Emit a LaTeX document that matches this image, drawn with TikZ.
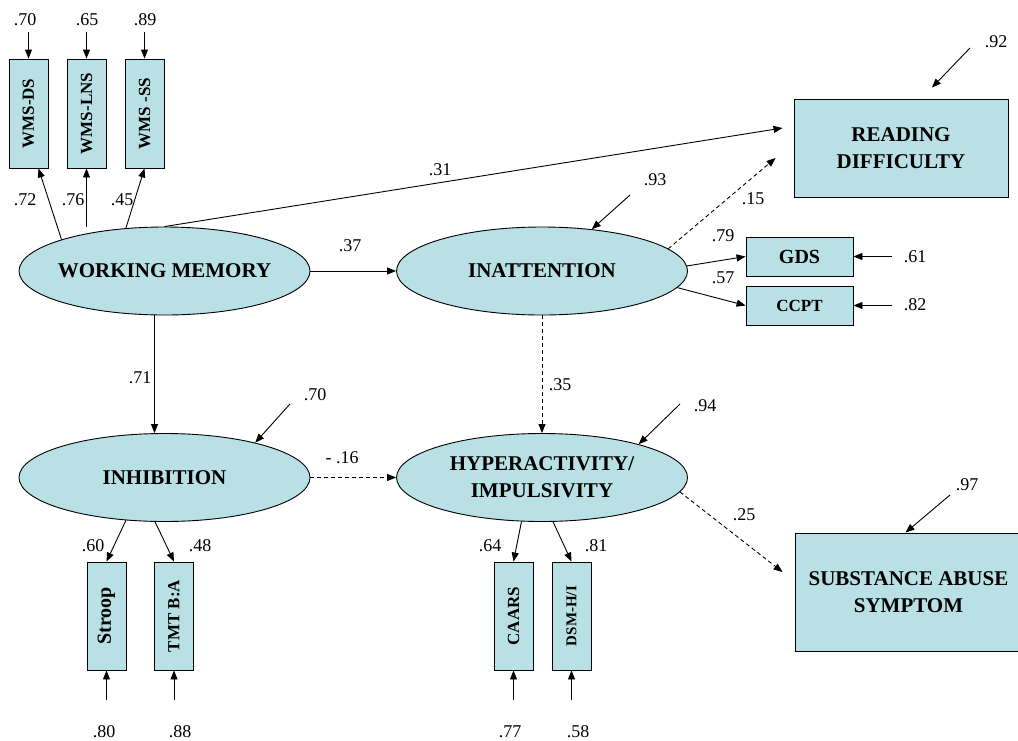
\documentclass[tikz,border=0pt]{standalone}
\usepackage{fontspec}
\usepackage{graphicx}
\setmainfont{Liberation Serif}
\usetikzlibrary{shapes.geometric,arrows.meta,calc}
\definecolor{semfill}{RGB}{185,224,228}
\begin{document}
\begin{tikzpicture}[x=1pt,y=-1pt,
  latent/.style={ellipse,draw=black,line width=0.9pt,fill=semfill,minimum width=291pt,minimum height=88pt,inner xsep=-20pt,inner ysep=0pt,align=center,font=\fontsize{21}{27}\selectfont\bfseries},
  outcome/.style={rectangle,draw=black,line width=0.9pt,fill=semfill,inner sep=0pt,align=center,font=\fontsize{21}{27}\selectfont\bfseries},
  hbox/.style={rectangle,draw=black,line width=0.9pt,fill=semfill,minimum width=107pt,minimum height=39pt,inner sep=0pt},
  vbox/.style={rectangle,draw=black,line width=0.9pt,fill=semfill,minimum width=39pt,minimum height=109pt,inner sep=0pt},
  coef/.style={inner sep=0pt,font=\fontsize{18}{21}\selectfont},
  arr/.style={-{Triangle[length=9pt,width=7pt]},line width=0.9pt},
  darr/.style={arr,dash pattern=on 4pt off 3pt}]
\useasboundingbox[fill=white] (0,0) rectangle (1018,740);

% latent variables
\node[latent] (wm)   at (164.5,271)   {WORKING MEMORY};
\node[latent] (inat) at (542,271)     {INATTENTION};
\node[latent] (inh)  at (164.5,477.5) {INHIBITION};
\node[latent] (hyp)  at (542,477.5)   {HYPERACTIVITY/\\IMPULSIVITY};

% outcomes
\node[outcome,minimum width=214pt,minimum height=98pt] (rd) at (901,148) {READING\\DIFFICULTY};
\node[outcome,minimum width=227pt,minimum height=118pt] (sub) at (908.5,592) {SUBSTANCE ABUSE\\SYMPTOM};

% indicators
\node[vbox] (ds)  at (28.5,113.5)  {\fontsize{17}{20}\selectfont\bfseries\rotatebox{90}{WMS-DS}};
\node[vbox] (lns) at (86.5,113.5)  {\fontsize{17}{20}\selectfont\bfseries\rotatebox{90}{WMS-LNS}};
\node[vbox] (ss)  at (144.5,113.5) {\fontsize{17}{20}\selectfont\bfseries\rotatebox{90}{WMS -SS}};
\node[hbox] (gds)  at (799.5,256.5) {\fontsize{20}{24}\selectfont\bfseries GDS};
\node[hbox] (ccpt) at (799.5,305.5) {\fontsize{17}{20}\selectfont\bfseries CCPT};
\node[vbox,minimum height=108pt] (stroop) at (106.5,616) {\fontsize{20}{24}\selectfont\bfseries\rotatebox{90}{Stroop}};
\node[vbox,minimum height=108pt] (tmt)    at (174,616)   {\fontsize{17}{20}\selectfont\bfseries\rotatebox{90}{TMT B:A}};
\node[vbox,minimum height=108pt] (caars)  at (513.5,616) {\fontsize{17}{20}\selectfont\bfseries\rotatebox{90}{CAARS}};
\node[vbox,minimum height=108pt] (dsm)    at (571.5,616) {\fontsize{15}{18}\selectfont\bfseries\rotatebox{90}{DSM-H/I}};

% free ends of the error arrows
\coordinate (eds)  at (28.5,32);
\coordinate (elns) at (86.5,32);
\coordinate (ess)  at (144.5,32);
\coordinate (erd)  at (970,48);
\coordinate (einat) at (630,195);
\coordinate (egds) at (892,256.5);
\coordinate (eccpt) at (892,305.5);
\coordinate (einh) at (290,404);
\coordinate (ehyp) at (680,404);
\coordinate (esub) at (950,495);
\coordinate (estroop) at (106.5,700);
\coordinate (etmt) at (174,700);
\coordinate (ecaars) at (513.5,700);
\coordinate (edsm) at (571.5,700);

% measurement paths
\draw[arr] (wm.163) -- ($(ds.south)!.5!(ds.south east)$);
\draw[arr] (wm.north -| lns.south) -- (lns.south);
\draw[arr] (wm.132) -- (ss.south);
\draw[arr] (inat.2) -- (gds.west);
\draw[arr] (inat.-7) -- (ccpt.west);
\draw[arr] (inh.-132) -- (stroop.north);
\draw[arr] (inh.-102) -- (tmt.north);
\draw[arr] (hyp.-115) -- (caars.north);
\draw[arr] (hyp.-76) -- (dsm.north);

% structural paths
\draw[arr] (wm.north) -- ($(rd.west)+(-11,-20)$);
\draw[arr] (wm.east) -- (inat.west);
\draw[arr] ($(wm.south)+(-10,0)$) -- ($(inh.north)+(-10,0)$);
\draw[darr] (inat.10) -- ($(rd.west)+(-18,10)$);
\draw[darr] (inat.south) -- (hyp.north);
\draw[darr] (inh.east) -- (hyp.west);
\draw[darr] (hyp.-6) -- ($(sub.west)+(-12,-20)$);

% error terms
\draw[arr] (eds) -- (ds.north);
\draw[arr] (elns) -- (lns.north);
\draw[arr] (ess) -- (ss.north);
\draw[arr] (erd) -- ($(rd.north)+(31,-11)$);
\draw[arr] (einat) -- (inat.40);
\draw[arr] (egds) -- (gds.east);
\draw[arr] (eccpt) -- (ccpt.east);
\draw[arr] (einh) -- (inh.21);
\draw[arr] (ehyp) -- (hyp.19);
\draw[arr] (esub) -- ($(sub.north)+(-3,0)$);
\draw[arr] (estroop) -- (stroop.south);
\draw[arr] (etmt) -- (tmt.south);
\draw[arr] (ecaars) -- (caars.south);
\draw[arr] (edsm) -- (dsm.south);

% coefficients
\node[coef] (c1)  at (25,20)   {.70};
\node[coef] (c2)  at (87,20)   {.65};
\node[coef] (c3)  at (145,20)  {.89};
\node[coef] (c4)  at (25,200)  {.72};
\node[coef] (c5)  at (73,200)  {.76};
\node[coef] (c6)  at (122,200) {.45};
\node[coef] (c7)  at (440,170) {.31};
\node[coef] (c8)  at (350,246) {.37};
\node[coef] (c9)  at (655,180) {.93};
\node[coef] (c10) at (996,42)  {.92};
\node[coef] (c11) at (753,199) {.15};
\node[coef] (c12) at (723,236) {.79};
\node[coef] (c13) at (723,278) {.57};
\node[coef] (c14) at (915,257) {.61};
\node[coef] (c15) at (915,305) {.82};
\node[coef] (c16) at (140,378) {.71};
\node[coef] (c17) at (560,385) {.35};
\node[coef] (c18) at (315,395) {.70};
\node[coef] (c19) at (705,406) {.94};
\node[coef] (c20) at (342,458) {- .16};
\node[coef] (c21) at (967,485) {.97};
\node[coef] (c22) at (744,515) {.25};
\node[coef] (c23) at (93,546)  {.60};
\node[coef] (c24) at (200,546) {.48};
\node[coef] (c25) at (490,546) {.64};
\node[coef] (c26) at (596,546) {.81};
\node[coef] (c27) at (104,732) {.80};
\node[coef] (c28) at (180,732) {.88};
\node[coef] (c29) at (510,732) {.77};
\node[coef] (c30) at (578,732) {.58};
\end{tikzpicture}
\end{document}
